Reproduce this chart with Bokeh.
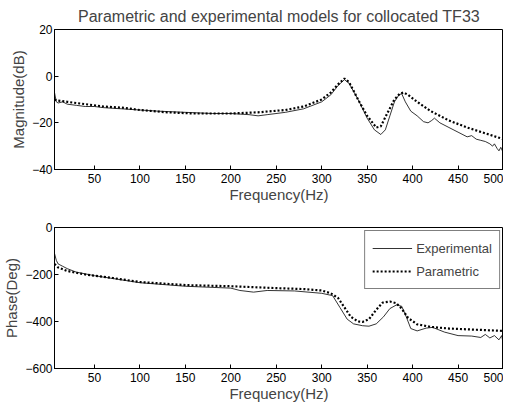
from bokeh.plotting import figure
from bokeh.layouts import column
from bokeh.models import Range1d, FixedTicker, Legend, LegendItem
from bokeh.embed import file_html
from bokeh.resources import INLINE

# ---- data ----
f_mag_exp = [6, 8, 10, 15, 20, 30, 40, 50, 60, 80, 100, 120, 150, 180, 200, 220, 230, 240, 260, 280, 300, 310, 318, 325, 330, 340, 350, 358, 365, 370, 375, 380, 385, 388, 392, 398, 405, 412, 417, 421, 424, 430, 440, 450, 460, 465, 470, 475, 480, 485, 488, 490, 493, 495, 497, 500]
mag_exp = [-7, -11, -11.5, -11, -12, -12.5, -13, -13, -13.5, -14, -14.5, -15, -15.5, -16, -16, -16.5, -17, -16.5, -15.5, -14, -11, -8, -4, -1.5, -3, -10, -18, -23, -25, -23, -17, -11, -8, -7.5, -11, -15, -17, -19.5, -20, -19, -18, -20, -22, -24, -26, -25.5, -27, -27.5, -28, -29, -30, -29, -31, -32, -30.5, -33]

f_mag_par = [6, 10, 20, 40, 60, 80, 100, 130, 160, 200, 230, 260, 280, 300, 310, 318, 325, 330, 340, 350, 360, 365, 372, 380, 386, 390, 395, 405, 420, 440, 460, 480, 500]
mag_par = [-10, -10.5, -11, -12, -13, -13.5, -14.5, -15.5, -16, -16, -15.5, -14.5, -13, -10, -7, -3.5, -1, -2.5, -10, -17, -22, -21.5, -16, -10, -7.5, -7, -8, -11, -15, -19, -22, -24.5, -27]

f_ph_exp = [5, 6, 8, 10, 15, 20, 30, 50, 75, 100, 150, 200, 210, 225, 240, 270, 300, 312, 320, 328, 335, 345, 352, 360, 368, 375, 382, 388, 393, 398, 405, 415, 422, 435, 450, 465, 475, 480, 485, 490, 495, 498, 500]
ph_exp = [-70, -110, -140, -155, -165, -175, -190, -205, -220, -235, -250, -258, -268, -275, -268, -270, -280, -290, -340, -390, -410, -418, -420, -410, -380, -345, -330, -335, -380, -430, -440, -428, -425, -445, -460, -462, -468, -455, -470, -460, -478, -460, -500]

f_ph_par = [6, 10, 20, 40, 70, 100, 150, 200, 250, 280, 300, 310, 318, 325, 332, 340, 345, 352, 360, 367, 375, 382, 388, 395, 405, 420, 440, 470, 500]
ph_par = [-155, -170, -185, -200, -215, -232, -245, -250, -258, -262, -268, -280, -300, -340, -380, -400, -402, -390, -350, -320, -315, -322, -345, -385, -412, -423, -430, -435, -440]

x_ticks = [50, 100, 150, 200, 250, 300, 350, 400, 450, 500]
mag_ticks = [-40, -20, 0, 20]
ph_ticks = [-600, -400, -200, 0]

FONT = "Liberation Sans"


def style(p, yticks):
    for ax in [p.xaxis[0], p.yaxis[0]]:
        ax.major_tick_in = 4
        ax.major_tick_out = 0
        ax.minor_tick_line_color = None
        ax.major_label_text_font = FONT
        ax.major_label_text_font_size = "12px"
        ax.major_label_text_color = "black"
        ax.axis_label_text_font = FONT
        ax.axis_label_text_font_size = "15px"
        ax.axis_label_text_font_style = "normal"
        ax.axis_line_color = "black"
    p.xaxis[0].ticker = FixedTicker(ticks=x_ticks)
    p.yaxis[0].ticker = FixedTicker(ticks=yticks)
    p.xaxis[0].axis_label = "Frequency(Hz)"
    p.xaxis[0].axis_label_standoff = 0
    p.xaxis[0].major_label_standoff = 4
    p.yaxis[0].axis_label_standoff = 2
    p.yaxis[0].major_label_standoff = 2
    p.xgrid.grid_line_color = None
    p.ygrid.grid_line_color = None
    p.outline_line_color = "black"


p1 = figure(width=503, height=205, output_backend="svg", toolbar_location=None,
            x_range=Range1d(6, 500), y_range=Range1d(-40, 20),
            min_border_left=50, min_border_right=0, min_border_top=0, min_border_bottom=0)
p1.title.text = "Parametric and experimental models for collocated TF33"
p1.title.align = "center"
p1.title.text_font = FONT
p1.title.text_font_size = "16px"
p1.title.text_font_style = "normal"
p1.line(f_mag_exp, mag_exp, line_color="black", line_width=0.8)
p1.line(f_mag_par, mag_par, line_color="black", line_width=2.2, line_dash="2 2")
style(p1, mag_ticks)
p1.yaxis[0].axis_label = "Magnitude(dB)"

p2 = figure(width=503, height=199, output_backend="svg", toolbar_location=None,
            x_range=Range1d(6, 500), y_range=Range1d(-600, 0),
            min_border_left=50, min_border_right=0, min_border_top=22, min_border_bottom=0)
r1 = p2.line(f_ph_exp, ph_exp, line_color="black", line_width=0.8)
r2 = p2.line(f_ph_par, ph_par, line_color="black", line_width=2.2, line_dash="2 2")
style(p2, ph_ticks)
p2.yaxis[0].axis_label = "Phase(Deg)"

legend = Legend(items=[LegendItem(label="Experimental", renderers=[r1]),
                       LegendItem(label="Parametric", renderers=[r2])],
                location="top_right", label_text_font=FONT, label_text_font_size="13px",
                border_line_color="black", border_line_width=1, glyph_width=40,
                label_standoff=4, spacing=3, padding=7, margin=3, label_height=20,
                glyph_height=20)
p2.add_layout(legend)

lay = column(p1, p2, spacing=0)
open("out.html", "w").write(file_html(lay, INLINE))
